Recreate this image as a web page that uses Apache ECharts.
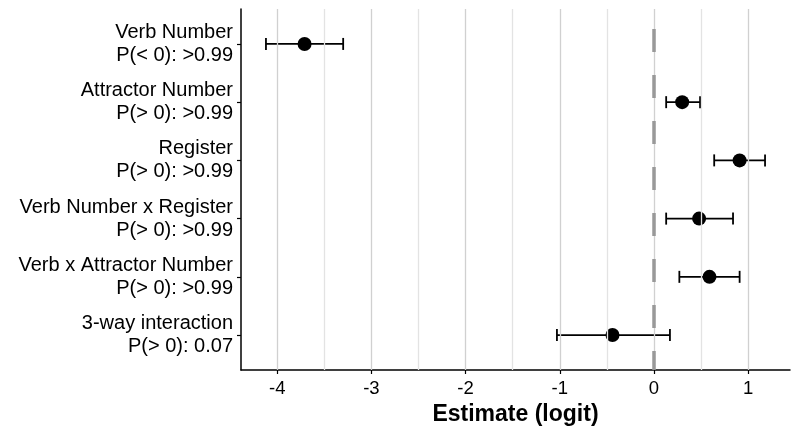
<!DOCTYPE html>
<html>
<head>
<meta charset="utf-8">
<script src="https://cdn.jsdelivr.net/npm/echarts@6/dist/echarts.min.js"></script>
<style>
  html, body { margin: 0; padding: 0; background: #fff; }
  #chart { width: 798px; height: 426px; }
</style>
</head>
<body>
<div id="chart"></div>
<script>
"use strict";
// 数据
const terms = ['Verb Number', 'Attractor Number', 'Register', 'Verb Number x Register', 'Verb x Attractor Number', '3-way interaction'];
const probLabels = ['P(< 0): >0.99', 'P(> 0): >0.99', 'P(> 0): >0.99', 'P(> 0): >0.99', 'P(> 0): >0.99', 'P(> 0): 0.07'];
const estimates = [-3.71, 0.30, 0.91, 0.48, 0.59, -0.44];
const lower = [-4.12, 0.13, 0.64, 0.13, 0.27, -1.03];
const upper = [-3.30, 0.49, 1.18, 0.84, 0.91, 0.17];
const xTicks = [-4, -3, -2, -1, 0, 1];
const gridValues = [-4, -3.5, -3, -2.5, -2, -1.5, -1, -0.5, 0, 0.5, 1];

const rows = terms.map((t, i) => i + 1);
// ggplot 风格的 5% 扩展
const lo = Math.min.apply(null, lower), hi = Math.max.apply(null, upper);
const pad = (hi - lo) * 0.05;

const chart = echarts.init(document.getElementById('chart'), null, { renderer: 'canvas' });

function renderErrorBar(params, api) {
  const y = api.value(0);
  const a = api.coord([api.value(1), y]);
  const b = api.coord([api.value(2), y]);
  const h = 6;
  const style = { stroke: '#000', lineWidth: 1.8 };
  return {
    type: 'group',
    children: [
      { type: 'line', shape: { x1: a[0], y1: a[1], x2: b[0], y2: b[1] }, style: style },
      { type: 'line', shape: { x1: a[0], y1: a[1] - h, x2: a[0], y2: a[1] + h }, style: style },
      { type: 'line', shape: { x1: b[0], y1: b[1] - h, x2: b[0], y2: b[1] + h }, style: style }
    ]
  };
}

const option = {
  animation: false,
  textStyle: { fontFamily: 'Liberation Sans, Arial, sans-serif' },
  grid: { left: 241, right: 8, top: 9, bottom: 56, outerBoundsMode: 'none' },
  xAxis: {
    type: 'value',
    min: lo - pad,
    max: hi + pad,
    name: 'Estimate (logit)',
    nameLocation: 'middle',
    nameGap: 29,
    nameTextStyle: { fontSize: 23, fontWeight: 'bold', color: '#000' },
    axisLine: { onZero: false, lineStyle: { color: '#000', width: 1.5 } },
    axisTick: { show: true, length: 4, customValues: xTicks, lineStyle: { color: '#000', width: 1.2 } },
    axisLabel: { customValues: xTicks, fontSize: 18.5, color: '#000', margin: 9 },
    splitLine: { show: false }
  },
  yAxis: {
    type: 'value',
    inverse: true,
    min: 0.4,
    max: 6.6,
    axisLine: { show: true, onZero: false, lineStyle: { color: '#000', width: 1.5 } },
    axisTick: { show: true, length: 4, customValues: rows, lineStyle: { color: '#000', width: 1.2 } },
    axisLabel: {
      customValues: rows,
      fontSize: 20,
      lineHeight: 23,
      color: '#000',
      margin: 8,
      align: 'right',
      formatter: function (v) {
        const i = Math.round(v) - 1;
        return terms[i] + '\n' + probLabels[i];
      }
    },
    splitLine: { show: false }
  },
  series: [
    {
      // 网格线与零线
      type: 'scatter',
      data: [],
      silent: true,
      z: 1,
      markLine: {
        silent: true,
        symbol: ['none', 'none'],
        label: { show: false },
        animation: false,
        data: gridValues.map(v => ({
          xAxis: v,
          lineStyle: { color: Number.isInteger(v) ? '#d0d0d0' : '#e3e3e3', width: 1.3, type: 'solid' }
        })).concat([{
          xAxis: 0,
          lineStyle: { color: '#999', width: 3.5, type: [23, 23], dashOffset: 26 }
        }])
      }
    },
    {
      type: 'custom',
      renderItem: renderErrorBar,
      encode: { x: [1, 2], y: 0 },
      data: rows.map((r, i) => [r, lower[i], upper[i]]),
      z: 3
    },
    {
      type: 'scatter',
      symbol: 'circle',
      symbolSize: 14,
      itemStyle: { color: '#000', opacity: 1 },
      data: rows.map((r, i) => [estimates[i], r]),
      z: 4
    }
  ]
};

chart.setOption(option);
</script>
</body>
</html>
